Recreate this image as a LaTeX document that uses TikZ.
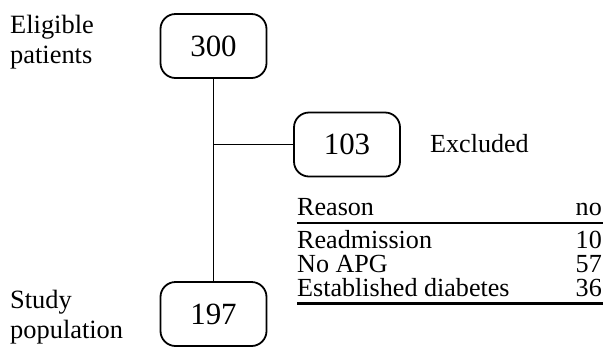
\documentclass[tikz,border=0pt]{standalone}
\usepackage{fontspec}
\setmainfont{Liberation Serif}
\usetikzlibrary{positioning}
\tikzset{
  countbox/.style={draw, line width=1.8bp, rounded corners=15bp, minimum width=106bp, minimum height=64bp, inner sep=0pt, font=\fontsize{31}{36}\selectfont},
  sidelabel/.style={anchor=north west, align=left, inner sep=0pt, font=\fontsize{26.5}{30}\selectfont},
  cell/.style={inner sep=0pt, font=\fontsize{26.2}{30}\selectfont},
  flowline/.style={line width=1.6bp},
  tablerule/.style={line width=2.2bp},
}

\begin{document}
\begin{tikzpicture}[x=1bp, y=-1bp]
  \useasboundingbox (0,0) rectangle (606,347);
  % Boxes
  \node[countbox] (eligible) at (213.5,46) {300};
  \node[countbox] (excluded) at (347,144.5) {103};
  \node[countbox] (study) at (213.5,314) {197};
  % Side labels
  \node[sidelabel] (eliglabel) at (10,15) {Eligible\\patients};
  \node[sidelabel] (studylabel) at (10,290) {Study\\population};
  \node[cell, anchor=base west] (exclabel) at (430,152) {Excluded};
  % Flow lines
  \draw[flowline] (eligible) -- (study);
  \coordinate (split) at (eligible.south |- excluded.west);
  \draw[flowline] (split) -- (excluded.west);
  % Table of reasons
  \node[cell, anchor=base west] (reasonhead) at (297,215) {Reason};
  \node[cell, anchor=base east] (numhead) at (602,215) {no};
  \foreach \reason/\num [count=\i] in {Readmission/10, No APG/57, Established diabetes/36} {
    \pgfmathsetmacro{\rowy}{248+(\i-1)*24}
    \node[cell, anchor=base west] (reason\i) at (297,\rowy) {\reason};
    \node[cell, anchor=base east] (num\i) at (602,\rowy) {\num};
  }
  \draw[tablerule] (297,223) -- (603,223);
  \draw[tablerule] (297,303.5) -- (603,303.5);
\end{tikzpicture}
\end{document}
